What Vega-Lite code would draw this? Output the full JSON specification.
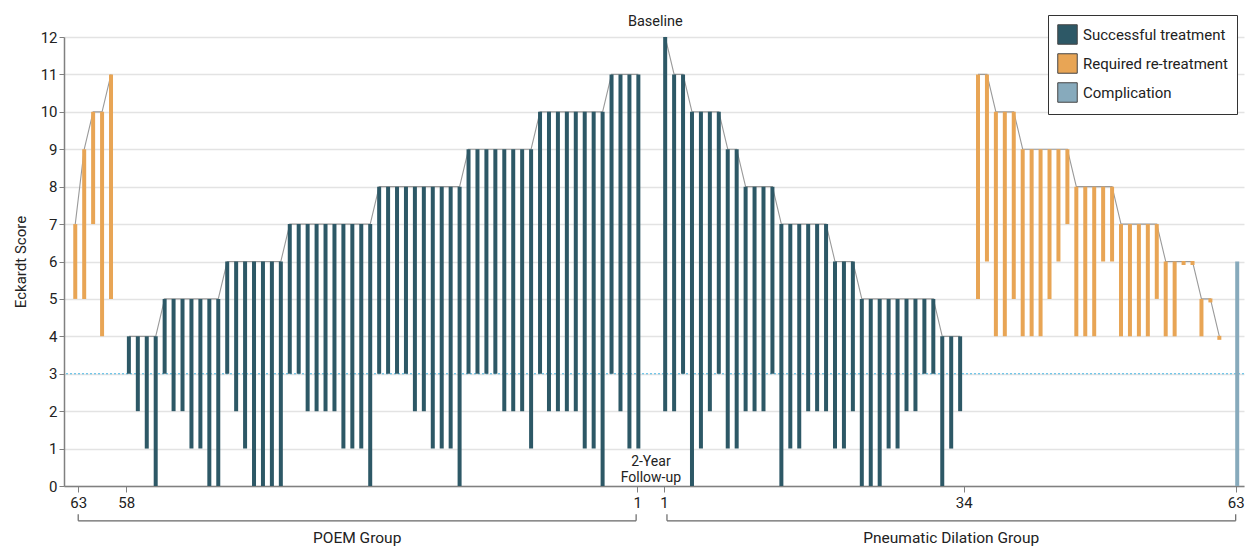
{
  "$schema": "https://vega.github.io/schema/vega-lite/v6.json",
  "width": 1180,
  "height": 449,
  "autosize": {"type": "none"},
  "padding": {"left": 64, "top": 37, "right": 10, "bottom": 60},
  "background": "white",
  "config": {
    "font": "Roboto, sans-serif",
    "view": {"stroke": null},
    "axisX": {
      "grid": false, "tickSize": 6, "tickColor": "#808080",
      "domainColor": "#808080", "domainWidth": 1.5,
      "labelFontSize": 15, "labelColor": "#222", "labelPadding": 3,
      "labelFlush": false, "labelOverlap": false
    },
    "axisY": {
      "titleFontSize": 15, "titleFontWeight": "normal", "titleColor": "#222", "titlePadding": 12,
      "grid": true, "gridColor": "#e3e3e3", "gridWidth": 1.5,
      "domainColor": "#808080", "domainWidth": 1.5,
      "tickColor": "#808080", "tickSize": 5,
      "labelFontSize": 15, "labelColor": "#222", "labelPadding": 2
    },
    "legend": {
      "labelFontSize": 15, "labelColor": "#222"
    }
  },
  "layer": [
    {
      "data": {"values": [{}]},
      "mark": {"type": "rule", "color": "#48b6e4", "strokeWidth": 1.2, "strokeDash": [2, 2]},
      "encoding": {
        "y": {"datum": 3, "type": "quantitative", "scale": {"domain": [0, 12], "nice": false, "zero": false}, "axis": {"values": [0,1,2,3,4,5,6,7,8,9,10,11,12], "title": "Eckardt Score", "titleFontSize": 15}}
      }
    },
    {
      "data": {"values": [
        {"g":"POEM","p":63,"base":7,"fu":5,"outcome":"Required re-treatment"},
        {"g":"POEM","p":62,"base":9,"fu":5,"outcome":"Required re-treatment"},
        {"g":"POEM","p":61,"base":10,"fu":7,"outcome":"Required re-treatment"},
        {"g":"POEM","p":60,"base":10,"fu":4,"outcome":"Required re-treatment"},
        {"g":"POEM","p":59,"base":11,"fu":5,"outcome":"Required re-treatment"},
        {"g":"POEM","p":58,"base":4,"fu":3,"outcome":"Successful treatment"},
        {"g":"POEM","p":57,"base":4,"fu":2,"outcome":"Successful treatment"},
        {"g":"POEM","p":56,"base":4,"fu":1,"outcome":"Successful treatment"},
        {"g":"POEM","p":55,"base":4,"fu":0,"outcome":"Successful treatment"},
        {"g":"POEM","p":54,"base":5,"fu":3,"outcome":"Successful treatment"},
        {"g":"POEM","p":53,"base":5,"fu":2,"outcome":"Successful treatment"},
        {"g":"POEM","p":52,"base":5,"fu":2,"outcome":"Successful treatment"},
        {"g":"POEM","p":51,"base":5,"fu":1,"outcome":"Successful treatment"},
        {"g":"POEM","p":50,"base":5,"fu":1,"outcome":"Successful treatment"},
        {"g":"POEM","p":49,"base":5,"fu":0,"outcome":"Successful treatment"},
        {"g":"POEM","p":48,"base":5,"fu":0,"outcome":"Successful treatment"},
        {"g":"POEM","p":47,"base":6,"fu":3,"outcome":"Successful treatment"},
        {"g":"POEM","p":46,"base":6,"fu":2,"outcome":"Successful treatment"},
        {"g":"POEM","p":45,"base":6,"fu":1,"outcome":"Successful treatment"},
        {"g":"POEM","p":44,"base":6,"fu":0,"outcome":"Successful treatment"},
        {"g":"POEM","p":43,"base":6,"fu":0,"outcome":"Successful treatment"},
        {"g":"POEM","p":42,"base":6,"fu":0,"outcome":"Successful treatment"},
        {"g":"POEM","p":41,"base":6,"fu":0,"outcome":"Successful treatment"},
        {"g":"POEM","p":40,"base":7,"fu":3,"outcome":"Successful treatment"},
        {"g":"POEM","p":39,"base":7,"fu":3,"outcome":"Successful treatment"},
        {"g":"POEM","p":38,"base":7,"fu":2,"outcome":"Successful treatment"},
        {"g":"POEM","p":37,"base":7,"fu":2,"outcome":"Successful treatment"},
        {"g":"POEM","p":36,"base":7,"fu":2,"outcome":"Successful treatment"},
        {"g":"POEM","p":35,"base":7,"fu":2,"outcome":"Successful treatment"},
        {"g":"POEM","p":34,"base":7,"fu":1,"outcome":"Successful treatment"},
        {"g":"POEM","p":33,"base":7,"fu":1,"outcome":"Successful treatment"},
        {"g":"POEM","p":32,"base":7,"fu":1,"outcome":"Successful treatment"},
        {"g":"POEM","p":31,"base":7,"fu":0,"outcome":"Successful treatment"},
        {"g":"POEM","p":30,"base":8,"fu":3,"outcome":"Successful treatment"},
        {"g":"POEM","p":29,"base":8,"fu":3,"outcome":"Successful treatment"},
        {"g":"POEM","p":28,"base":8,"fu":3,"outcome":"Successful treatment"},
        {"g":"POEM","p":27,"base":8,"fu":3,"outcome":"Successful treatment"},
        {"g":"POEM","p":26,"base":8,"fu":2,"outcome":"Successful treatment"},
        {"g":"POEM","p":25,"base":8,"fu":2,"outcome":"Successful treatment"},
        {"g":"POEM","p":24,"base":8,"fu":1,"outcome":"Successful treatment"},
        {"g":"POEM","p":23,"base":8,"fu":1,"outcome":"Successful treatment"},
        {"g":"POEM","p":22,"base":8,"fu":1,"outcome":"Successful treatment"},
        {"g":"POEM","p":21,"base":8,"fu":0,"outcome":"Successful treatment"},
        {"g":"POEM","p":20,"base":9,"fu":3,"outcome":"Successful treatment"},
        {"g":"POEM","p":19,"base":9,"fu":3,"outcome":"Successful treatment"},
        {"g":"POEM","p":18,"base":9,"fu":3,"outcome":"Successful treatment"},
        {"g":"POEM","p":17,"base":9,"fu":3,"outcome":"Successful treatment"},
        {"g":"POEM","p":16,"base":9,"fu":2,"outcome":"Successful treatment"},
        {"g":"POEM","p":15,"base":9,"fu":2,"outcome":"Successful treatment"},
        {"g":"POEM","p":14,"base":9,"fu":2,"outcome":"Successful treatment"},
        {"g":"POEM","p":13,"base":9,"fu":1,"outcome":"Successful treatment"},
        {"g":"POEM","p":12,"base":10,"fu":3,"outcome":"Successful treatment"},
        {"g":"POEM","p":11,"base":10,"fu":2,"outcome":"Successful treatment"},
        {"g":"POEM","p":10,"base":10,"fu":2,"outcome":"Successful treatment"},
        {"g":"POEM","p":9,"base":10,"fu":2,"outcome":"Successful treatment"},
        {"g":"POEM","p":8,"base":10,"fu":2,"outcome":"Successful treatment"},
        {"g":"POEM","p":7,"base":10,"fu":1,"outcome":"Successful treatment"},
        {"g":"POEM","p":6,"base":10,"fu":1,"outcome":"Successful treatment"},
        {"g":"POEM","p":5,"base":10,"fu":0,"outcome":"Successful treatment"},
        {"g":"POEM","p":4,"base":11,"fu":3,"outcome":"Successful treatment"},
        {"g":"POEM","p":3,"base":11,"fu":2,"outcome":"Successful treatment"},
        {"g":"POEM","p":2,"base":11,"fu":1,"outcome":"Successful treatment"},
        {"g":"POEM","p":1,"base":11,"fu":1,"outcome":"Successful treatment"},
        {"g":"PD","p":1,"base":12,"fu":2,"outcome":"Successful treatment"},
        {"g":"PD","p":2,"base":11,"fu":2,"outcome":"Successful treatment"},
        {"g":"PD","p":3,"base":11,"fu":3,"outcome":"Successful treatment"},
        {"g":"PD","p":4,"base":10,"fu":0,"outcome":"Successful treatment"},
        {"g":"PD","p":5,"base":10,"fu":1,"outcome":"Successful treatment"},
        {"g":"PD","p":6,"base":10,"fu":2,"outcome":"Successful treatment"},
        {"g":"PD","p":7,"base":10,"fu":3,"outcome":"Successful treatment"},
        {"g":"PD","p":8,"base":9,"fu":1,"outcome":"Successful treatment"},
        {"g":"PD","p":9,"base":9,"fu":1,"outcome":"Successful treatment"},
        {"g":"PD","p":10,"base":8,"fu":2,"outcome":"Successful treatment"},
        {"g":"PD","p":11,"base":8,"fu":2,"outcome":"Successful treatment"},
        {"g":"PD","p":12,"base":8,"fu":2,"outcome":"Successful treatment"},
        {"g":"PD","p":13,"base":8,"fu":3,"outcome":"Successful treatment"},
        {"g":"PD","p":14,"base":7,"fu":0,"outcome":"Successful treatment"},
        {"g":"PD","p":15,"base":7,"fu":1,"outcome":"Successful treatment"},
        {"g":"PD","p":16,"base":7,"fu":1,"outcome":"Successful treatment"},
        {"g":"PD","p":17,"base":7,"fu":2,"outcome":"Successful treatment"},
        {"g":"PD","p":18,"base":7,"fu":2,"outcome":"Successful treatment"},
        {"g":"PD","p":19,"base":7,"fu":2,"outcome":"Successful treatment"},
        {"g":"PD","p":20,"base":6,"fu":1,"outcome":"Successful treatment"},
        {"g":"PD","p":21,"base":6,"fu":1,"outcome":"Successful treatment"},
        {"g":"PD","p":22,"base":6,"fu":2,"outcome":"Successful treatment"},
        {"g":"PD","p":23,"base":5,"fu":0,"outcome":"Successful treatment"},
        {"g":"PD","p":24,"base":5,"fu":0,"outcome":"Successful treatment"},
        {"g":"PD","p":25,"base":5,"fu":0,"outcome":"Successful treatment"},
        {"g":"PD","p":26,"base":5,"fu":1,"outcome":"Successful treatment"},
        {"g":"PD","p":27,"base":5,"fu":1,"outcome":"Successful treatment"},
        {"g":"PD","p":28,"base":5,"fu":2,"outcome":"Successful treatment"},
        {"g":"PD","p":29,"base":5,"fu":2,"outcome":"Successful treatment"},
        {"g":"PD","p":30,"base":5,"fu":3,"outcome":"Successful treatment"},
        {"g":"PD","p":31,"base":5,"fu":3,"outcome":"Successful treatment"},
        {"g":"PD","p":32,"base":4,"fu":0,"outcome":"Successful treatment"},
        {"g":"PD","p":33,"base":4,"fu":1,"outcome":"Successful treatment"},
        {"g":"PD","p":34,"base":4,"fu":2,"outcome":"Successful treatment"},
        {"g":"PD","p":35,"base":11,"fu":5,"outcome":"Required re-treatment"},
        {"g":"PD","p":36,"base":11,"fu":6,"outcome":"Required re-treatment"},
        {"g":"PD","p":37,"base":10,"fu":4,"outcome":"Required re-treatment"},
        {"g":"PD","p":38,"base":10,"fu":4,"outcome":"Required re-treatment"},
        {"g":"PD","p":39,"base":10,"fu":5,"outcome":"Required re-treatment"},
        {"g":"PD","p":40,"base":9,"fu":4,"outcome":"Required re-treatment"},
        {"g":"PD","p":41,"base":9,"fu":4,"outcome":"Required re-treatment"},
        {"g":"PD","p":42,"base":9,"fu":4,"outcome":"Required re-treatment"},
        {"g":"PD","p":43,"base":9,"fu":5,"outcome":"Required re-treatment"},
        {"g":"PD","p":44,"base":9,"fu":6,"outcome":"Required re-treatment"},
        {"g":"PD","p":45,"base":9,"fu":7,"outcome":"Required re-treatment"},
        {"g":"PD","p":46,"base":8,"fu":4,"outcome":"Required re-treatment"},
        {"g":"PD","p":47,"base":8,"fu":4,"outcome":"Required re-treatment"},
        {"g":"PD","p":48,"base":8,"fu":4,"outcome":"Required re-treatment"},
        {"g":"PD","p":49,"base":8,"fu":6,"outcome":"Required re-treatment"},
        {"g":"PD","p":50,"base":8,"fu":6,"outcome":"Required re-treatment"},
        {"g":"PD","p":51,"base":7,"fu":4,"outcome":"Required re-treatment"},
        {"g":"PD","p":52,"base":7,"fu":4,"outcome":"Required re-treatment"},
        {"g":"PD","p":53,"base":7,"fu":4,"outcome":"Required re-treatment"},
        {"g":"PD","p":54,"base":7,"fu":4,"outcome":"Required re-treatment"},
        {"g":"PD","p":55,"base":7,"fu":5,"outcome":"Required re-treatment"},
        {"g":"PD","p":56,"base":6,"fu":4,"outcome":"Required re-treatment"},
        {"g":"PD","p":57,"base":6,"fu":4,"outcome":"Required re-treatment"},
        {"g":"PD","p":58,"base":6,"fu":6,"outcome":"Required re-treatment"},
        {"g":"PD","p":59,"base":6,"fu":6,"outcome":"Required re-treatment"},
        {"g":"PD","p":60,"base":5,"fu":4,"outcome":"Required re-treatment"},
        {"g":"PD","p":61,"base":5,"fu":5,"outcome":"Required re-treatment"},
        {"g":"PD","p":62,"base":4,"fu":4,"outcome":"Required re-treatment"},
        {"g":"PD","p":63,"base":6,"fu":0,"outcome":"Complication"}
      ]},
      "transform": [
        {"calculate": "datum.g === 'POEM' ? (datum.outcome === 'Successful treatment' ? 64 - datum.p : 63 - datum.p) : (datum.outcome === 'Successful treatment' ? 65 + datum.p : (datum.outcome === 'Required re-treatment' ? 66 + datum.p : 67 + datum.p))", "as": "pos"}
      ],
      "layer": [
        {
          "mark": {"type": "line", "color": "#9a9a9a", "strokeWidth": 1.1},
          "encoding": {
            "x": {"field": "pos", "type": "quantitative", "scale": {"domain": [-0.7, 130.2], "nice": false, "zero": false}, "axis": {"values": [0.33, 5.7, 62.86, 65.86, 99.41, 129.83], "labelExpr": "datum.value < 3 ? '63' : datum.value < 30 ? '58' : datum.value < 70 ? '1' : datum.value < 110 ? '34' : '63'", "title": null}},
            "y": {"field": "base", "type": "quantitative", "scale": {"domain": [0, 12], "nice": false, "zero": false}, "axis": {"values": [0,1,2,3,4,5,6,7,8,9,10,11,12], "title": "Eckardt Score", "titleFontSize": 15}},
            "detail": [{"field": "g"}, {"field": "outcome"}]
          }
        },
        {
          "mark": {"type": "bar", "width": 4},
          "encoding": {
            "x": {"field": "pos", "type": "quantitative", "scale": {"domain": [-0.7, 130.2], "nice": false, "zero": false}, "axis": {"values": [0.33, 5.7, 62.86, 65.86, 99.41, 129.83], "labelExpr": "datum.value < 3 ? '63' : datum.value < 30 ? '58' : datum.value < 70 ? '1' : datum.value < 110 ? '34' : '63'", "title": null}},
            "y": {"field": "base", "type": "quantitative", "scale": {"domain": [0, 12], "nice": false, "zero": false}, "axis": {"values": [0,1,2,3,4,5,6,7,8,9,10,11,12], "title": "Eckardt Score", "titleFontSize": 15}},
            "y2": {"field": "fu"},
            "color": {
              "field": "outcome", "type": "nominal",
              "scale": {"domain": ["Successful treatment", "Required re-treatment", "Complication"], "range": ["#2d5866", "#e8a555", "#87aabc"]},
              "legend": {
                "orient": "none", "legendX": 984, "legendY": -22, "title": null,
                "symbolType": "square", "symbolSize": 380, "symbolStrokeColor": "#444", "symbolStrokeWidth": 1,
                "labelFontSize": 15, "labelColor": "#222", "labelOffset": 5,
                "strokeColor": "#333", "fillColor": "white", "padding": 9, "rowPadding": 4
              }
            }
          }
        },
        {
          "transform": [{"filter": "datum.base === datum.fu"}],
          "mark": {"type": "square", "size": 16, "filled": true, "opacity": 1, "yOffset": 1.5},
          "encoding": {
            "x": {"field": "pos", "type": "quantitative", "scale": {"domain": [-0.7, 130.2], "nice": false, "zero": false}, "axis": {"values": [0.33, 5.7, 62.86, 65.86, 99.41, 129.83], "labelExpr": "datum.value < 3 ? '63' : datum.value < 30 ? '58' : datum.value < 70 ? '1' : datum.value < 110 ? '34' : '63'", "title": null}},
            "y": {"field": "base", "type": "quantitative", "scale": {"domain": [0, 12], "nice": false, "zero": false}, "axis": {"values": [0,1,2,3,4,5,6,7,8,9,10,11,12], "title": "Eckardt Score", "titleFontSize": 15}},
            "color": {"field": "outcome", "type": "nominal"}
          }
        }
      ]
    },
    {
      "data": {"values": [{}]},
      "mark": {"type": "text", "text": "Baseline", "fontSize": 14.5, "color": "#222", "dy": -15, "baseline": "middle"},
      "encoding": {
        "x": {"datum": 64.9, "type": "quantitative", "scale": {"domain": [-0.7, 130.2], "nice": false, "zero": false}, "axis": {"values": [0.33, 5.7, 62.86, 65.86, 99.41, 129.83], "labelExpr": "datum.value < 3 ? '63' : datum.value < 30 ? '58' : datum.value < 70 ? '1' : datum.value < 110 ? '34' : '63'", "title": null}},
        "y": {"datum": 12, "type": "quantitative", "scale": {"domain": [0, 12], "nice": false, "zero": false}, "axis": {"values": [0,1,2,3,4,5,6,7,8,9,10,11,12], "title": "Eckardt Score", "titleFontSize": 15}}
      }
    },
    {
      "data": {"values": [{}]},
      "mark": {"type": "text", "text": "2-Year\nFollow-up", "lineBreak": "\n", "lineHeight": 16, "fontSize": 14, "color": "#222", "dy": -24, "baseline": "middle"},
      "encoding": {
        "x": {"datum": 64.4, "type": "quantitative", "scale": {"domain": [-0.7, 130.2], "nice": false, "zero": false}, "axis": {"values": [0.33, 5.7, 62.86, 65.86, 99.41, 129.83], "labelExpr": "datum.value < 3 ? '63' : datum.value < 30 ? '58' : datum.value < 70 ? '1' : datum.value < 110 ? '34' : '63'", "title": null}},
        "y": {"datum": 0, "type": "quantitative", "scale": {"domain": [0, 12], "nice": false, "zero": false}, "axis": {"values": [0,1,2,3,4,5,6,7,8,9,10,11,12], "title": "Eckardt Score", "titleFontSize": 15}}
      }
    },
    {
      "data": {"values": [{}]},
      "mark": {"type": "rule", "color": "#666", "strokeWidth": 1.2},
      "encoding": {
        "x": {"datum": 0.33, "type": "quantitative", "scale": {"domain": [-0.7, 130.2], "nice": false, "zero": false}, "axis": {"values": [0.33, 5.7, 62.86, 65.86, 99.41, 129.83], "labelExpr": "datum.value < 3 ? '63' : datum.value < 30 ? '58' : datum.value < 70 ? '1' : datum.value < 110 ? '34' : '63'", "title": null}},
        "x2": {"datum": 62.75},
        "y": {"datum": -0.93, "type": "quantitative", "scale": {"domain": [0, 12], "nice": false, "zero": false}, "axis": {"values": [0,1,2,3,4,5,6,7,8,9,10,11,12], "title": "Eckardt Score", "titleFontSize": 15}}
      }
    },
    {
      "data": {"values": [{}]},
      "mark": {"type": "rule", "color": "#666", "strokeWidth": 1.2},
      "encoding": {
        "x": {"datum": 0.33, "type": "quantitative", "scale": {"domain": [-0.7, 130.2], "nice": false, "zero": false}, "axis": {"values": [0.33, 5.7, 62.86, 65.86, 99.41, 129.83], "labelExpr": "datum.value < 3 ? '63' : datum.value < 30 ? '58' : datum.value < 70 ? '1' : datum.value < 110 ? '34' : '63'", "title": null}},
        "y": {"datum": -0.756, "type": "quantitative", "scale": {"domain": [0, 12], "nice": false, "zero": false}, "axis": {"values": [0,1,2,3,4,5,6,7,8,9,10,11,12], "title": "Eckardt Score", "titleFontSize": 15}},
        "y2": {"datum": -0.93}
      }
    },
    {
      "data": {"values": [{}]},
      "mark": {"type": "rule", "color": "#666", "strokeWidth": 1.2},
      "encoding": {
        "x": {"datum": 62.75, "type": "quantitative", "scale": {"domain": [-0.7, 130.2], "nice": false, "zero": false}, "axis": {"values": [0.33, 5.7, 62.86, 65.86, 99.41, 129.83], "labelExpr": "datum.value < 3 ? '63' : datum.value < 30 ? '58' : datum.value < 70 ? '1' : datum.value < 110 ? '34' : '63'", "title": null}},
        "y": {"datum": -0.756, "type": "quantitative", "scale": {"domain": [0, 12], "nice": false, "zero": false}, "axis": {"values": [0,1,2,3,4,5,6,7,8,9,10,11,12], "title": "Eckardt Score", "titleFontSize": 15}},
        "y2": {"datum": -0.93}
      }
    },
    {
      "data": {"values": [{}]},
      "mark": {"type": "rule", "color": "#666", "strokeWidth": 1.2},
      "encoding": {
        "x": {"datum": 66.2, "type": "quantitative", "scale": {"domain": [-0.7, 130.2], "nice": false, "zero": false}, "axis": {"values": [0.33, 5.7, 62.86, 65.86, 99.41, 129.83], "labelExpr": "datum.value < 3 ? '63' : datum.value < 30 ? '58' : datum.value < 70 ? '1' : datum.value < 110 ? '34' : '63'", "title": null}},
        "x2": {"datum": 129.83},
        "y": {"datum": -0.93, "type": "quantitative", "scale": {"domain": [0, 12], "nice": false, "zero": false}, "axis": {"values": [0,1,2,3,4,5,6,7,8,9,10,11,12], "title": "Eckardt Score", "titleFontSize": 15}}
      }
    },
    {
      "data": {"values": [{}]},
      "mark": {"type": "rule", "color": "#666", "strokeWidth": 1.2},
      "encoding": {
        "x": {"datum": 66.2, "type": "quantitative", "scale": {"domain": [-0.7, 130.2], "nice": false, "zero": false}, "axis": {"values": [0.33, 5.7, 62.86, 65.86, 99.41, 129.83], "labelExpr": "datum.value < 3 ? '63' : datum.value < 30 ? '58' : datum.value < 70 ? '1' : datum.value < 110 ? '34' : '63'", "title": null}},
        "y": {"datum": -0.756, "type": "quantitative", "scale": {"domain": [0, 12], "nice": false, "zero": false}, "axis": {"values": [0,1,2,3,4,5,6,7,8,9,10,11,12], "title": "Eckardt Score", "titleFontSize": 15}},
        "y2": {"datum": -0.93}
      }
    },
    {
      "data": {"values": [{}]},
      "mark": {"type": "rule", "color": "#666", "strokeWidth": 1.2},
      "encoding": {
        "x": {"datum": 129.83, "type": "quantitative", "scale": {"domain": [-0.7, 130.2], "nice": false, "zero": false}, "axis": {"values": [0.33, 5.7, 62.86, 65.86, 99.41, 129.83], "labelExpr": "datum.value < 3 ? '63' : datum.value < 30 ? '58' : datum.value < 70 ? '1' : datum.value < 110 ? '34' : '63'", "title": null}},
        "y": {"datum": -0.756, "type": "quantitative", "scale": {"domain": [0, 12], "nice": false, "zero": false}, "axis": {"values": [0,1,2,3,4,5,6,7,8,9,10,11,12], "title": "Eckardt Score", "titleFontSize": 15}},
        "y2": {"datum": -0.93}
      }
    },
    {
      "data": {"values": [{}]},
      "mark": {"type": "text", "text": "POEM Group", "fontSize": 15.5, "color": "#222", "baseline": "middle"},
      "encoding": {
        "x": {"datum": 31.54, "type": "quantitative", "scale": {"domain": [-0.7, 130.2], "nice": false, "zero": false}, "axis": {"values": [0.33, 5.7, 62.86, 65.86, 99.41, 129.83], "labelExpr": "datum.value < 3 ? '63' : datum.value < 30 ? '58' : datum.value < 70 ? '1' : datum.value < 110 ? '34' : '63'", "title": null}},
        "y": {"datum": -1.4, "type": "quantitative", "scale": {"domain": [0, 12], "nice": false, "zero": false}, "axis": {"values": [0,1,2,3,4,5,6,7,8,9,10,11,12], "title": "Eckardt Score", "titleFontSize": 15}}
      }
    },
    {
      "data": {"values": [{}]},
      "mark": {"type": "text", "text": "Pneumatic Dilation Group", "fontSize": 15.5, "color": "#222", "baseline": "middle"},
      "encoding": {
        "x": {"datum": 98.0, "type": "quantitative", "scale": {"domain": [-0.7, 130.2], "nice": false, "zero": false}, "axis": {"values": [0.33, 5.7, 62.86, 65.86, 99.41, 129.83], "labelExpr": "datum.value < 3 ? '63' : datum.value < 30 ? '58' : datum.value < 70 ? '1' : datum.value < 110 ? '34' : '63'", "title": null}},
        "y": {"datum": -1.4, "type": "quantitative", "scale": {"domain": [0, 12], "nice": false, "zero": false}, "axis": {"values": [0,1,2,3,4,5,6,7,8,9,10,11,12], "title": "Eckardt Score", "titleFontSize": 15}}
      }
    }
  ]
}
